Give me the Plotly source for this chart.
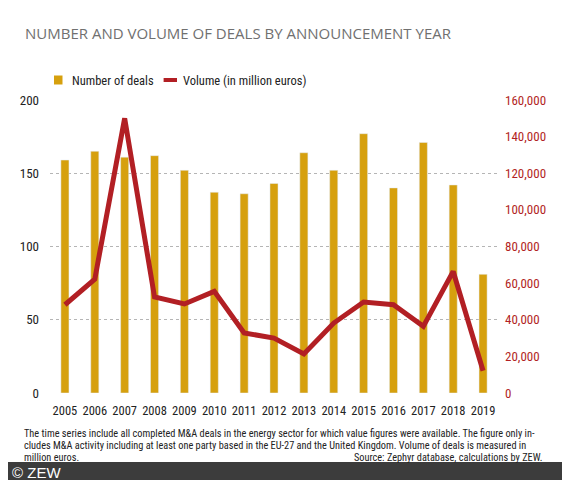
import plotly.graph_objects as go

# data
years = ["2005", "2006", "2007", "2008", "2009", "2010", "2011", "2012",
         "2013", "2014", "2015", "2016", "2017", "2018", "2019"]
num_deals = [159, 165, 161, 162, 152, 137, 136, 143, 164, 152, 177, 140, 171, 142, 81]
volume = [48200, 62200, 150000, 52400, 48600, 55500, 32800, 30000,
          21300, 38200, 49700, 48200, 36400, 66400, 12200]

left_ticks = [0, 50, 100, 150, 200]
right_ticks = [0, 20000, 40000, 60000, 80000, 100000, 120000, 140000, 160000]
right_labels = ["0", "20,000", "40,000", "60,000", "80,000", "100,000", "120,000", "140,000", "160,000"]

bar_col = "#d6a00e"
line_col = "#b21f24"
font_fam = "Roboto Condensed, Roboto, sans-serif"

# page body has an 8px margin, so the figure is 8px smaller than the window
W, H = 562, 472
L, R, T, B = 42, 72, 92, 87
pw, ph = W - L - R, H - T - B


def px(fx):
    # figure x pixel -> paper coordinate
    return (fx - L) / pw


def py(fy):
    # figure y pixel -> paper coordinate
    return (H - B - fy) / ph


fig = go.Figure()
fig.add_trace(go.Bar(x=years, y=num_deals, name="Number of deals", showlegend=False,
                     marker_color=bar_col, width=0.27, yaxis="y"))
fig.add_trace(go.Scatter(x=years, y=volume, name="Volume (in million euros)", showlegend=False,
                         mode="lines", line=dict(color=line_col, width=5), yaxis="y2"))

fig.update_layout(
    width=W, height=H,
    margin=dict(l=L, r=R, t=T, b=B, autoexpand=False),
    plot_bgcolor="white", paper_bgcolor="white",
    font=dict(family=font_fam, size=13, color="#222"),
    xaxis=dict(type="category", range=[-0.5, 14.5], showgrid=False, ticks="",
               tickangle=0, automargin=False, ticklabelstandoff=8,
               tickfont=dict(size=12.5, color="#222"), showline=False, zeroline=False),
    yaxis=dict(range=[0, 200], tickvals=left_ticks, showgrid=True, automargin=False,
               gridcolor="#b5b5b5", griddash="dot", gridwidth=1, zeroline=False,
               ticks="", ticklabelstandoff=10, tickfont=dict(size=13, color="#222")),
    yaxis2=dict(range=[0, 160000], overlaying="y", side="right", automargin=False,
                tickvals=right_ticks, ticktext=right_labels, showgrid=False,
                zeroline=False, ticks="", ticklabelstandoff=6,
                tickfont=dict(size=13, color=line_col)),
    bargap=0.7,
)

# title
fig.add_annotation(text="NUMBER AND VOLUME OF DEALS BY ANNOUNCEMENT YEAR",
                   xref="paper", yref="paper", x=px(14.5), y=py(25),
                   xanchor="left", yanchor="middle", showarrow=False,
                   font=dict(family="Open Sans, sans-serif", size=15, color="#707070"))

# legend drawn by hand to match spacing
leg_y = 72
fig.add_shape(type="rect", xref="paper", yref="paper", x0=px(46), x1=px(54.5),
              y0=py(leg_y + 4.5), y1=py(leg_y - 4.5), fillcolor=bar_col, line_width=0)
fig.add_annotation(text="Number of deals", xref="paper", yref="paper", x=px(61.5), y=py(leg_y),
                   xanchor="left", yanchor="middle", showarrow=False,
                   font=dict(size=12.5, color="#222"))
fig.add_shape(type="line", xref="paper", yref="paper", x0=px(155.6), x1=px(169),
              y0=py(leg_y), y1=py(leg_y), line=dict(color=line_col, width=4))
fig.add_annotation(text="Volume (in million euros)", xref="paper", yref="paper", x=px(172.5), y=py(leg_y),
                   xanchor="left", yanchor="middle", showarrow=False,
                   font=dict(size=12.5, color="#222"))

# footnote
notes = [
    "The time series include all completed M&A deals in the energy sector for which value figures were available. The figure only in-",
    "cludes M&A activity including at least one party based in the EU-27 and the United Kingdom. Volume of deals is measured in",
    "million euros.",
]
note_y = [425, 437.5, 449.5]
for line, fy in zip(notes, note_y):
    fig.add_annotation(text=line, xref="paper", yref="paper", x=px(14), y=py(fy),
                       xanchor="left", yanchor="middle",
                       showarrow=False, font=dict(size=10.3, color="#222"))
fig.add_annotation(text="Source: Zephyr database, calculations by ZEW.",
                   xref="paper", yref="paper", x=px(537), y=py(449.5),
                   xanchor="right", yanchor="middle", showarrow=False,
                   font=dict(size=10.3, color="#222"))

# dark footer strip
fig.add_shape(type="rect", xref="paper", yref="paper", x0=px(-10), x1=px(W + 10),
              y0=py(H + 2), y1=py(454), fillcolor="#3c3c3c", line_width=0, layer="above")
fig.add_annotation(text="© ZEW", xref="paper", yref="paper", x=px(2), y=py(464.5),
                   xanchor="left", yanchor="middle", showarrow=False,
                   font=dict(family="Liberation Sans, sans-serif", size=15, color="white"))

fig.write_html("out.html")
